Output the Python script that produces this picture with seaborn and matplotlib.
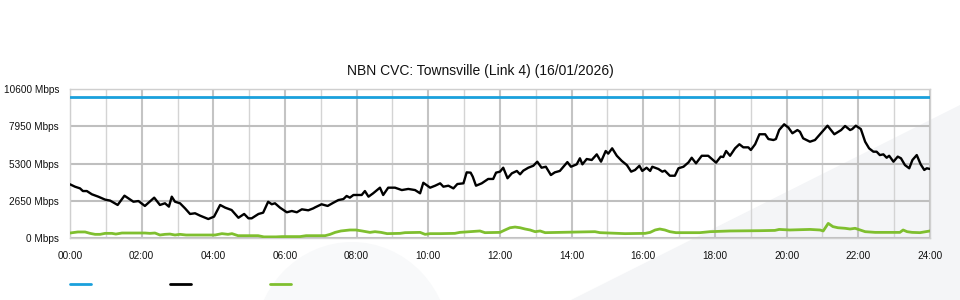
import matplotlib
matplotlib.use("Agg")
import matplotlib.pyplot as plt
from matplotlib.patches import Polygon, Ellipse
from matplotlib.lines import Line2D
import seaborn as sns
import pandas as pd

# ---- data ----
title = "NBN CVC: Townsville (Link 4) (16/01/2026)"
y_ticks = [0, 2650, 5300, 7950, 10600]
y_tick_labels = ["0 Mbps", "2650 Mbps", "5300 Mbps", "7950 Mbps", "10600 Mbps"]
x_ticks = list(range(0, 25, 2))
x_tick_labels = ["%02d:00" % h for h in x_ticks]

capacity_hours = [0.0, 24.0]
capacity_mbps = [10000, 10000]

traffic_hours = [
    0.00, 0.14, 0.28, 0.36, 0.47, 0.61, 0.79, 0.98, 1.12, 1.33, 1.52, 1.63, 1.77, 1.91,
    2.09, 2.35, 2.51, 2.65, 2.76, 2.84, 2.93, 3.07, 3.21, 3.35, 3.49, 3.63, 3.86, 4.02,
    4.19, 4.33, 4.51, 4.70, 4.86, 4.98, 5.07, 5.26, 5.39, 5.53, 5.63, 5.72, 5.86, 6.05,
    6.19, 6.33, 6.47, 6.65, 6.79, 6.84, 7.02, 7.19, 7.35, 7.49, 7.63, 7.72, 7.81, 7.91,
    8.14, 8.23, 8.33, 8.46, 8.65, 8.74, 8.88, 9.07, 9.26, 9.44, 9.63, 9.77, 9.86, 10.05,
    10.19, 10.33, 10.42, 10.56, 10.70, 10.81, 10.98, 11.07, 11.18, 11.24, 11.33, 11.49,
    11.67, 11.81, 11.89, 12.00, 12.09, 12.21, 12.33, 12.47, 12.56, 12.65, 12.79, 12.93,
    13.04, 13.16, 13.28, 13.42, 13.53, 13.67, 13.88, 13.98, 14.14, 14.23, 14.30, 14.42,
    14.56, 14.70, 14.82, 14.95, 15.02, 15.13, 15.26, 15.40, 15.54, 15.66, 15.77, 15.89,
    15.97, 16.09, 16.19, 16.25, 16.42, 16.53, 16.60, 16.74, 16.88, 16.98, 17.12, 17.26,
    17.35, 17.47, 17.63, 17.81, 18.03, 18.16, 18.23, 18.31, 18.42, 18.56, 18.68, 18.79,
    18.93, 19.00, 19.12, 19.24, 19.40, 19.49, 19.63, 19.70, 19.79, 19.93, 20.05, 20.16,
    20.30, 20.37, 20.46, 20.65, 20.79, 20.93, 21.14, 21.33, 21.52, 21.63, 21.77, 21.83,
    21.93, 22.07, 22.19, 22.30, 22.42, 22.51, 22.60, 22.70, 22.79, 22.86, 22.98, 23.10,
    23.19, 23.30, 23.42, 23.51, 23.63, 23.74, 23.84, 23.91, 24.00,
]
traffic_mbps = [
    3820, 3650, 3530, 3340, 3340, 3110, 2940, 2730, 2660, 2350, 3010, 2820, 2580, 2630,
    2280, 2870, 2350, 2470, 2230, 2940, 2580, 2470, 2110, 1710, 1760, 1590, 1350, 1520,
    2350, 2160, 1990, 1440, 1710, 1400, 1400, 1710, 1800, 2580, 2400, 2470, 2160, 1830,
    1920, 1830, 2040, 1970, 2110, 2180, 2400, 2280, 2510, 2700, 2770, 2990, 2870, 3060,
    3060, 3340, 2940, 3180, 3580, 3060, 3580, 3580, 3410, 3490, 3410, 3180, 3930, 3580,
    3720, 3890, 3650, 3720, 3530, 3840, 3890, 4670, 4650, 4360, 3720, 3890,
    4200, 4200, 4650, 4720, 5000, 4250, 4600, 4770, 4530, 4790, 5000, 5140,
    5430, 5000, 5070, 4480, 4670, 4770, 5400, 5070, 5240, 5670, 5240, 5620,
    5550, 5950, 5430, 6190, 6000, 6380, 5850, 5480, 5190, 4720, 4840, 5140,
    4770, 5000, 4770, 5070, 4910, 4720, 4790, 4430, 4430, 4960, 5070, 5380,
    5710, 5310, 5850, 5850, 5360, 5790, 5760, 6190, 5850, 6380, 6670, 6450,
    6450, 6260, 6670, 7380, 7380, 7040, 6970, 7040, 7680, 8090, 7850, 7450,
    7680, 7560, 7090, 6850, 6970, 7380, 7990, 7380, 7680, 7970, 7680, 7750,
    7990, 7750, 6850, 6380, 6140, 6140, 5900, 5950, 5710, 5850, 5430, 5790,
    5670, 5190, 4960, 5550, 5900, 5240, 4840, 4960, 4910,
]

upload_hours = [
    0.00, 0.22, 0.42, 0.56, 0.70, 0.84, 0.98, 1.17, 1.28, 1.45, 2.09, 2.23, 2.37, 2.51,
    2.65, 2.79, 2.93, 3.07, 3.24, 4.05, 4.24, 4.41, 4.52, 4.69, 5.25, 5.41, 5.75, 5.92,
    6.42, 6.59, 7.12, 7.26, 7.40, 7.56, 7.81, 7.98, 8.15, 8.37, 8.51, 8.68, 8.85, 9.21,
    9.35, 9.77, 9.91, 10.05, 10.33, 10.74, 10.88, 11.16, 11.44, 11.58, 12.00, 12.14,
    12.28, 12.42, 12.56, 12.70, 12.84, 12.98, 13.12, 13.26, 14.65, 14.79, 15.49, 16.05,
    16.19, 16.33, 16.46, 16.60, 16.74, 16.91, 17.58, 17.86, 18.42, 19.26, 19.67, 19.79,
    20.09, 20.37, 20.65, 20.93, 21.02, 21.16, 21.29, 21.43, 21.63, 21.77, 21.91, 22.05,
    22.19, 22.47, 23.16, 23.25, 23.36, 23.50, 23.72, 24.00,
]
upload_mbps = [
    355, 430, 430, 330, 260, 260, 330, 330, 280, 355, 355, 330, 355, 213,
    260, 280, 213, 260, 213, 213, 310, 260, 310, 165, 165, 80, 80, 100,
    100, 165, 165, 260, 400, 500, 570, 570, 500, 400, 450, 400, 310, 330,
    380, 400, 260, 310, 310, 330, 400, 450, 500, 380, 400, 570,
    730, 780, 730, 640, 570, 450, 500, 380, 450, 380, 310, 330,
    400, 570, 640, 570, 450, 380, 380, 450, 500, 520, 540, 610,
    570, 590, 610, 570, 500, 1040, 810, 730, 690, 640, 690, 570,
    450, 400, 400, 570, 450, 400, 380, 500,
]

# ---- style ----
sns.set_theme(style="white")
plt.rcParams["font.family"] = ["Liberation Sans", "DejaVu Sans"]

fig = plt.figure(figsize=(9.6, 3.0), dpi=100)
fig.patch.set_facecolor("white")

# faint background watermark shapes
fig.add_artist(Polygon([(571 / 960, 0.0), (1.0, 1 - 105 / 300), (1.0, 0.0)],
                       closed=True, transform=fig.transFigure, facecolor="#f4f5f7",
                       edgecolor="none", zorder=-5))
fig.add_artist(Ellipse((352 / 960, 1 - 345 / 300), 196 / 960, 206 / 300,
                       transform=fig.transFigure, facecolor="#f8f9fa", edgecolor="none",
                       zorder=-5))

ax = fig.add_axes([70 / 960, 1 - 238 / 300, 860 / 960, 149 / 300])
ax.set_facecolor("none")

blue = "#1aa0dc"
black = "#000000"
green = "#7fbf2f"

sns.lineplot(x=capacity_hours, y=capacity_mbps, ax=ax, color=blue, lw=2.0, zorder=4)
sns.lineplot(x=traffic_hours, y=traffic_mbps, ax=ax, color=black, lw=1.7, zorder=5)
sns.lineplot(x=upload_hours, y=upload_mbps, ax=ax, color=green, lw=2.0, zorder=4)

ax.set_xlim(0, 24)
ax.set_ylim(0, 10600)
ax.set_xticks(x_ticks)
ax.set_xticklabels(x_tick_labels)
ax.set_xticks(list(range(1, 24, 2)), minor=True)
ax.set_yticks(y_ticks)
ax.set_yticklabels(y_tick_labels)
ax.set_xlabel("")
ax.set_ylabel("")

ax.tick_params(axis="x", which="major", length=7.5, width=1.2, color="#c4c4c4",
               pad=2, labelsize=7.2, labelcolor="#111111")
ax.tick_params(axis="x", which="minor", length=0)
ax.tick_params(axis="y", length=0, pad=8, labelsize=7.2, labelcolor="#111111")

ax.grid(True, axis="y", which="major", color="#bfbfbf", lw=1.5)
ax.grid(True, axis="x", which="major", color="#c4c4c4", lw=1.5)
ax.grid(True, axis="x", which="minor", color="#d4d4d4", lw=1.0)
ax.set_axisbelow(True)
for side in ["left", "right", "top", "bottom"]:
    ax.spines[side].set_color("#cfcfcf")
    ax.spines[side].set_linewidth(1.0)

fig.text(0.5, 1 - 71 / 300, title, ha="center", va="center", fontsize=10,
         color="#111111")

handles = [Line2D([], [], color=blue, lw=2), Line2D([], [], color=black, lw=2),
           Line2D([], [], color=green, lw=2)]
fig.legend(handles, [" ", " ", " "], ncol=3, loc="center left",
           bbox_to_anchor=(70 / 960, 1 - 285 / 300), frameon=False, fontsize=8,
           handlelength=1.9, handletextpad=0.5, columnspacing=6.3,
           borderpad=0, borderaxespad=0)

fig.savefig("out.png", dpi=100)
